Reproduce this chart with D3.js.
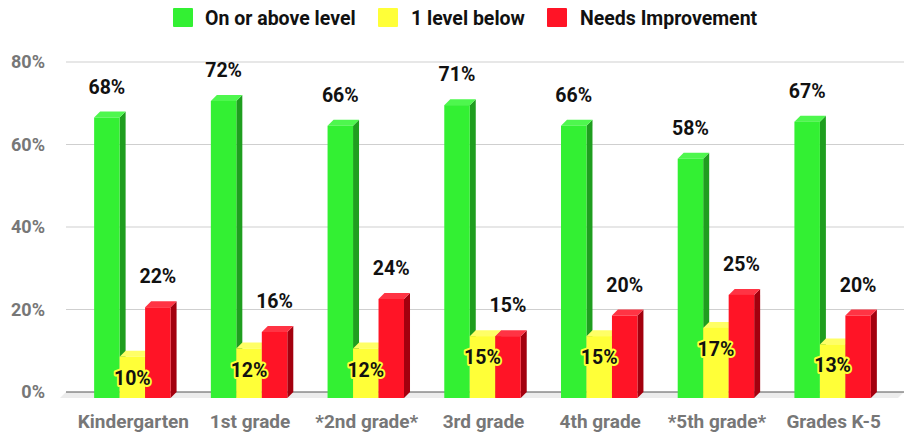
<!DOCTYPE html>
<html>
<head>
<meta charset="utf-8">
<script src="https://cdn.jsdelivr.net/npm/d3@7"></script>
<style>
  body { margin: 0; background: #fff; }
  text { font-family: Roboto, "Noto Sans", sans-serif; font-weight: bold; }
</style>
</head>
<body>
<div id="chart"></div>
<script>
// chart values
let categories = ["Kindergarten", "1st grade", "*2nd grade*", "3rd grade", "4th grade", "*5th grade*", "Grades K-5"];
let onLevel = [68, 72, 66, 71, 66, 58, 67];
let oneBelow = [10, 12, 12, 15, 15, 17, 13];
let needsImprovement = [22, 16, 24, 15, 20, 25, 20];
let seriesNames = ["On or above level", "1 level below", "Needs Improvement"];
let yTicks = [0, 20, 40, 60, 80];

let svgWidth = 904, svgHeight = 434;
let depth = 6;

let colors = [
  { front: "#33f033", top: "#4ef74e", side: "#1f9e1f" },
  { front: "#ffff38", top: "#ffff66", side: "#bcbc10" },
  { front: "#ff1426", top: "#ff3444", side: "#a3000e" }
];

let svg = d3.select("#chart").append("svg")
  .attr("width", svgWidth)
  .attr("height", svgHeight);

// back plane scale
let yScale = d3.scaleLinear().domain([0, 80]).range([392, 62]);

// front plane band scale
let xScale = d3.scaleBand().domain(categories).range([74, 891])
  .paddingInner(0.345).paddingOuter(0.1725);
let xSeries = d3.scaleBand().domain([0, 1, 2]).range([0, xScale.bandwidth()]);

let plotLeft = 66, plotRight = 904;

// gridlines
svg.append("g").selectAll("line")
  .data(yTicks.filter(d => d > 0))
  .enter().append("line")
  .attr("x1", plotLeft).attr("x2", plotRight)
  .attr("y1", d => yScale(d)).attr("y2", d => yScale(d))
  .attr("stroke", "#cfcfcf").attr("stroke-width", 1);

// floor
let y0 = yScale(0);
svg.append("polygon")
  .attr("points", [[plotLeft, y0], [plotRight, y0], [plotRight - depth, y0 + depth], [plotLeft - depth, y0 + depth]].join(" "))
  .attr("fill", "#ececec");
svg.append("line")
  .attr("x1", plotLeft).attr("x2", plotRight)
  .attr("y1", y0).attr("y2", y0)
  .attr("stroke", "#555").attr("stroke-width", 1.2);

// y axis labels
svg.append("g").selectAll("text")
  .data(yTicks)
  .enter().append("text")
  .attr("x", 45)
  .attr("y", d => yScale(d) + 6)
  .attr("text-anchor", "end")
  .attr("font-size", "18px")
  .attr("fill", "#777")
  .text(d => d + "%");

// bars
let series = [onLevel, oneBelow, needsImprovement];
let bars = [];
categories.forEach((c, i) => {
  series.forEach((s, j) => bars.push({ cat: c, s: j, v: s[i] }));
});

let barG = svg.append("g");
bars.forEach(b => {
  let w = xSeries.bandwidth();
  let x = xScale(b.cat) + xSeries(b.s);
  let yt = yScale(b.v) + depth;
  let yb = y0 + depth;
  let col = colors[b.s];
  let g = barG.append("g");
  g.append("polygon")
    .attr("points", [[x + w, yt], [x + w + depth, yt - depth], [x + w + depth, yb - depth], [x + w, yb]].join(" "))
    .attr("fill", col.side);
  g.append("polygon")
    .attr("points", [[x, yt], [x + depth, yt - depth], [x + w + depth, yt - depth], [x + w, yt]].join(" "))
    .attr("fill", col.top);
  g.append("rect")
    .attr("x", x).attr("y", yt)
    .attr("width", w).attr("height", yb - yt)
    .attr("fill", col.front);
});

// value labels
svg.append("g").selectAll("text")
  .data(bars)
  .enter().append("text")
  .attr("x", d => xScale(d.cat) + xSeries(d.s) + xSeries.bandwidth() / 2)
  .attr("y", d => d.s === 1 ? yScale(d.v) + 34 : yScale(d.v) - 18)
  .attr("text-anchor", "middle")
  .attr("font-size", "19.5px")
  .attr("fill", "#111")
  .attr("stroke", d => d.s === 1 ? "#ffff38" : "none")
  .attr("stroke-width", 4)
  .attr("stroke-linejoin", "round")
  .attr("paint-order", "stroke")
  .text(d => d.v + "%");

// x axis labels
svg.append("g").selectAll("text")
  .data(categories)
  .enter().append("text")
  .attr("x", d => xScale(d) + xScale.bandwidth() / 2 + 1)
  .attr("y", 428)
  .attr("text-anchor", "middle")
  .attr("font-size", "19px")
  .attr("fill", "#777")
  .text(d => d);

// legend
let legendX = [173, 378, 547];
let legend = svg.append("g").selectAll("g")
  .data(seriesNames)
  .enter().append("g")
  .attr("transform", (d, i) => `translate(${legendX[i]}, 8)`);
legend.append("rect")
  .attr("width", 20).attr("height", 19).attr("rx", 1)
  .attr("fill", (d, i) => colors[i].front);
legend.append("text")
  .attr("x", (d, i) => [32, 33, 33][i])
  .attr("y", 16.5)
  .attr("font-size", "19.5px")
  .attr("fill", "#111")
  .text(d => d);
</script>
</body>
</html>
